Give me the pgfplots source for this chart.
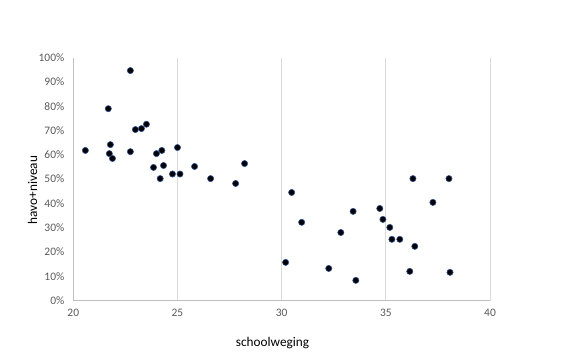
\documentclass[border=0pt]{standalone}
\usepackage{pgfplots}
\pgfplotsset{compat=1.18}
\usepackage{fontspec}
\setmainfont{Carlito}
\definecolor{tickgray}{HTML}{595959}
\definecolor{gridgray}{HTML}{D9D9D9}
\definecolor{axisgray}{HTML}{BFBFBF}
\definecolor{markedge}{HTML}{2F4F8F}
\begin{document}
\begin{tikzpicture}
\useasboundingbox (0,0) rectangle (564bp,361bp);
\begin{axis}[
  at={(73.3bp,60.5bp)}, anchor=south west,
  scale only axis,
  width=416.7bp, height=242.8bp,
  xmin=20, xmax=40, ymin=0, ymax=100,
  xtick={20,25,30,35,40},
  ytick={0,10,...,100},
  yticklabel={\pgfmathprintnumber{\tick}\%},
  /pgf/number format/assume math mode=true,
  xmajorgrids, major grid style={gridgray, line width=0.8bp},
  ymajorgrids=false,
  axis x line*=bottom, axis y line*=left,
  axis line style={axisgray, line width=0.8bp, -},
  major tick length=0pt,
  tick label style={font=\fontsize{11.5}{13}\selectfont, text=tickgray},
  xticklabel style={yshift=-5.5bp},
  yticklabel style={xshift=-5.5bp},
  xlabel={schoolweging},
  ylabel={havo+niveau},
  every axis x label/.style={at={(axis description cs:0.478,-0.175)}, anchor=center, font=\fontsize{13.3}{15}\selectfont, text=black},
  every axis y label/.style={at={(axis description cs:-0.098,0.455)}, anchor=center, rotate=90, font=\fontsize{13.3}{15}\selectfont, text=black},
  clip=false,
]
\addplot[only marks, mark=*, mark size=3.1bp, mark options={fill=black, draw=markedge, line width=0.6bp}] coordinates {
(22.74,94.7) (21.68,79.0) (22.98,70.4) (23.27,70.8) (23.51,72.6)
(20.58,61.8) (21.78,64.2) (21.73,60.5) (21.88,58.5) (22.74,61.3)
(23.99,60.5) (24.25,61.8) (25.00,63.0) (23.85,54.8) (24.33,55.6)
(25.82,55.2) (28.22,56.4) (24.17,50.2) (24.76,52.1) (25.12,52.1)
(26.59,50.2) (27.79,48.2)
(30.48,44.5) (30.96,32.2) (30.19,15.7) (32.84,28.0) (32.26,13.2)
(33.43,36.7) (33.56,8.3) (34.71,37.9) (34.86,33.4) (35.19,30.1)
(35.29,25.2) (35.67,25.2) (36.30,50.2) (38.03,50.2) (37.26,40.4)
(36.39,22.3) (36.15,12.0) (38.08,11.6)
};
\end{axis}
\end{tikzpicture}
\end{document}
